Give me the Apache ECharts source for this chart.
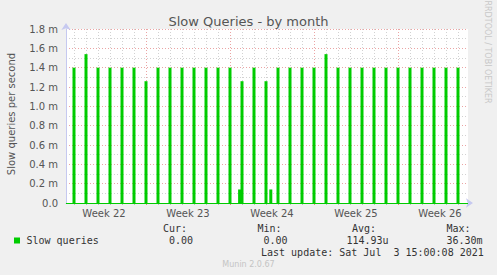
<!DOCTYPE html>
<html><head><meta charset="utf-8">
<script src="https://cdn.jsdelivr.net/npm/echarts@6/dist/echarts.min.js"></script>
<style>html,body{margin:0;padding:0;background:#f0f0f0;overflow:hidden}#c{width:497px;height:275px}</style>
</head><body><div id="c"></div>
<script>
// Days counted from Mon 31 May 2021 00:00 (start of ISO week 22)
const spikeDays = [1,2,3,4,5,6,7,8,9,10,11,12,13,14,15,16,17,18,19,20,21,22,23,24,25,26,27,28,29,30,31,32,33];
const spikeValues = [1.40,1.54,1.40,1.40,1.40,1.40,1.26,1.40,1.40,1.40,1.40,1.40,1.40,1.40,1.26,1.40,1.26,1.40,1.40,1.40,1.40,1.54,1.40,1.40,1.40,1.40,1.40,1.40,1.40,1.40,1.40,1.40,1.40];
const bumpDays = [14.8, 17.4];
const bumpValues = [0.14, 0.14];
const dayGrid = [1,2,3,4,5,6,7,8,9,10,11,12,13,14,15,16,17,18,19,20,21,22,23,24,25,26,27,28,29,30,31,32,33];
const weekGrid = [7,14,21,28];
const weekLabelDays = [3.5,10.5,17.5,24.5,31.5];
const weekLabels = ['Week 22','Week 23','Week 24','Week 25','Week 26'];
const xMin = 4/12, xMax = 406/12;
const yMax = 1.8, yStep = 0.2;
const legendName = 'Slow queries';
const statHeads = ['Cur:','Min:','Avg:','Max:'];
const statValues = ['0.00','0.00','114.93u','36.30m'];
const lastUpdate = 'Last update: Sat Jul  3 15:00:08 2021';

const chart = echarts.init(document.getElementById('c'), null, {renderer:'svg'});
const mono = 'DejaVu Sans Mono';
const sans = 'DejaVu Sans';
const redGrid = '#eba4a4', greyGrid = '#d2d2d2', axisBlue = '#c6c9f0';

const data = spikeDays.map((d,i)=>[d, spikeValues[i]]).concat(bumpDays.map((d,i)=>[d, bumpValues[i]]));

const headX = [163, 257.5, 352, 446.5];
const valX = [169, 263.5, 346.5, 446.5];

const graphics = [
  {type:'text', x:11, y:114, rotation:Math.PI/2, style:{text:'Slow queries per second', font:'10px '+sans, fill:'#555', textAlign:'center', textVerticalAlign:'middle'}},
  {type:'text', x:487, y:52, rotation:-Math.PI/2, style:{text:'RRDTOOL / TOBI OETIKER', font:'8px '+sans, fill:'#c8c8c8', textAlign:'center', textVerticalAlign:'middle'}},
  {type:'rect', shape:{x:14, y:237.5, width:6, height:6}, style:{fill:'#00cc00'}},
  {type:'text', x:26.5, y:240, style:{text:legendName, font:'10px '+mono, fill:'#333', textAlign:'left', textVerticalAlign:'middle'}},
  {type:'text', x:261, y:252, style:{text:lastUpdate, font:'10px '+mono, fill:'#333', textAlign:'left', textVerticalAlign:'middle'}},
  {type:'text', x:248.5, y:264, style:{text:'Munin 2.0.67', font:'8px '+sans, fill:'#c4c4c4', textAlign:'center', textVerticalAlign:'middle'}}
];
statHeads.forEach((t,i)=>graphics.push({type:'text', x:headX[i], y:228, style:{text:t, font:'10px '+mono, fill:'#333', textAlign:'left', textVerticalAlign:'middle'}}));
statValues.forEach((t,i)=>graphics.push({type:'text', x:valX[i], y:240, style:{text:t, font:'10px '+mono, fill:'#333', textAlign:'left', textVerticalAlign:'middle'}}));

chart.setOption({
  backgroundColor:'#f0f0f0',
  animation:false,
  title:{text:'Slow Queries - by month', left:'center', top:10, textStyle:{fontSize:13, fontWeight:'normal', color:'#555', fontFamily:sans}},
  grid:{left:66, right:29, top:29, bottom:72, show:true, backgroundColor:'#ffffff', borderWidth:0, containLabel:false},
  xAxis:[{
    type:'value', min:xMin, max:xMax,
    axisLine:{show:true, onZero:false, lineStyle:{color:axisBlue}, symbol:['none','arrow'], symbolSize:[7,7], symbolOffset:[0,5]},
    axisTick:{show:true, customValues:dayGrid, length:2, lineStyle:{color:'#bbbbbb'}},
    axisLabel:{show:true, customValues:weekLabelDays, formatter:v=>weekLabels[weekLabelDays.indexOf(v)], color:'#555', fontSize:10, fontFamily:sans, margin:5},
    splitLine:{show:true, lineStyle:{color:greyGrid, type:[1,2], width:1}}
  },{
    type:'value', min:xMin, max:xMax, position:'bottom',
    axisLine:{show:false},
    axisTick:{show:true, customValues:weekGrid, length:2, lineStyle:{color:'#e88080'}},
    axisLabel:{show:false, customValues:weekGrid},
    splitLine:{show:true, lineStyle:{color:redGrid, type:[1,2], width:1}}
  }],
  yAxis:{
    type:'value', min:0, max:yMax, interval:yStep,
    axisLine:{show:true, lineStyle:{color:axisBlue}, symbol:['none','arrow'], symbolSize:[7,7], symbolOffset:[0,6]},
    axisTick:{show:false},
    minorTick:{show:false, splitNumber:2},
    minorSplitLine:{show:true, lineStyle:{color:greyGrid, type:[1,2], width:1}},
    axisLabel:{color:'#555', fontSize:10, fontFamily:sans, margin:8, formatter:v=> v===0 ? '0.0' : v.toFixed(1)+' m'},
    splitLine:{show:true, lineStyle:{color:redGrid, type:[1,2], width:1}}
  },
  series:[{
    type:'bar', xAxisIndex:0, data:data, barWidth:3,
    itemStyle:{color:'#00cc00'},
    markLine:{silent:true, symbol:'none', label:{show:false}, lineStyle:{color:'#00cc00', type:'solid', width:1}, data:[{yAxis:0}]}
  }],
  graphic:graphics
});
</script></body></html>
